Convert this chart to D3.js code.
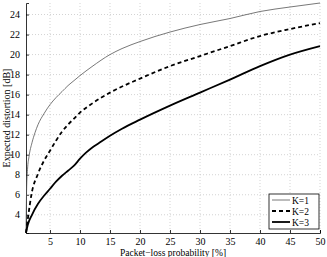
<!DOCTYPE html>
<html>
<head>
<meta charset="utf-8">
<script src="https://cdn.jsdelivr.net/npm/d3@7"></script>
<style>
  body { margin: 0; background: #fff; }
  text { font-family: "Liberation Serif", "DejaVu Serif", serif; }
</style>
</head>
<body>
<svg class="chart"></svg>
<script>
// packet-loss probability [%] and expected distortion [dB]
var k1x = [1, 1.1, 1.25, 1.5, 2, 2.5, 3, 4, 5, 6, 7, 8, 9, 10, 12, 15, 17, 20, 25, 30, 35, 40, 45, 50];
var k1y = [2.2, 6.5, 8.5, 9.8, 11.2, 12.2, 13.0, 14.1, 15.0, 15.7, 16.3, 16.9, 17.4, 17.9, 18.8, 20.0, 20.6, 21.3, 22.25, 23.0, 23.6, 24.3, 24.75, 25.15];

var k2x = [1, 1.4, 1.9, 3, 4, 5, 6, 7, 8, 9, 10, 12, 15, 20, 25, 30, 35, 40, 45, 50];
var k2y = [2.2, 4, 6, 8.1, 9.4, 10.4, 11.4, 12.3, 13.0, 13.6, 14.2, 15.1, 16.2, 17.6, 18.85, 19.85, 20.85, 21.85, 22.55, 23.15];

var k3x = [1, 1.3, 2, 3, 4, 5, 6, 7, 8, 9, 10, 11, 12, 13, 15, 17, 20, 25, 30, 35, 40, 45, 50];
var k3y = [2.2, 3, 4, 5.1, 5.9, 6.6, 7.3, 7.9, 8.4, 8.9, 9.6, 10.2, 10.7, 11.1, 11.9, 12.6, 13.5, 14.9, 16.2, 17.5, 18.85, 20.0, 20.85];

var seriesNames = ["K=1", "K=2", "K=3"];
var xTicks = [5, 10, 15, 20, 25, 30, 35, 40, 45, 50];
var yTicks = [4, 6, 8, 10, 12, 14, 16, 18, 20, 22, 24];

function show() {
    'use strict';

    var margin = { top: 3, bottom: 24, right: 7, left: 26 },
        width = 327 - margin.left - margin.right,
        height = 257 - margin.top - margin.bottom;

    var svg = d3.select(".chart")
        .attr("width", 327)
        .attr("height", 257);

    var chart = svg.append("g")
        .attr("transform", "translate(" + margin.left + "," + margin.top + ")");

    var x = d3.scaleLinear().domain([1, 50]).range([0, width]);
    var y = d3.scaleLinear().domain([2.18, 25.15]).range([height, 0]);

    // dotted grid
    chart.append("g").selectAll("line").data(xTicks).enter().append("line")
        .attr("x1", function(d) { return x(d) }).attr("x2", function(d) { return x(d) })
        .attr("y1", 0).attr("y2", height)
        .attr("stroke", "#c8c8c8").attr("stroke-width", 0.8)
        .attr("stroke-dasharray", "1,2");
    chart.append("g").selectAll("line").data(yTicks).enter().append("line")
        .attr("y1", function(d) { return y(d) }).attr("y2", function(d) { return y(d) })
        .attr("x1", 0).attr("x2", width)
        .attr("stroke", "#c8c8c8").attr("stroke-width", 0.8)
        .attr("stroke-dasharray", "1,2");

    // axes, ticks pointing inward
    var xAxis = chart.append("g")
        .attr("transform", "translate(0," + height + ")")
        .call(d3.axisBottom(x).tickValues(xTicks).tickSize(-3).tickPadding(5));
    var yAxis = chart.append("g")
        .call(d3.axisLeft(y).tickValues(yTicks).tickSize(-3).tickPadding(6));

    [xAxis, yAxis].forEach(function(a) {
        a.select(".domain").attr("stroke", "#000").attr("stroke-width", 0.8);
        a.selectAll(".tick line").attr("stroke", "#000").attr("stroke-width", 0.8);
        a.selectAll("text")
            .attr("fill", "#000")
            .style("font-family", "Liberation Serif")
            .style("font-size", "10px");
    });

    var line = d3.line()
        .x(function(d) { return x(d[0]) })
        .y(function(d) { return y(d[1]) })
        .curve(d3.curveMonotoneX);

    var series = [
        { name: seriesNames[0], data: d3.zip(k1x, k1y), color: "#555", w: 0.8, dash: null },
        { name: seriesNames[1], data: d3.zip(k2x, k2y), color: "#000", w: 1.8, dash: "4,3" },
        { name: seriesNames[2], data: d3.zip(k3x, k3y), color: "#000", w: 1.8, dash: null }
    ];

    chart.selectAll("path.series").data(series).enter().append("path")
        .attr("class", "series")
        .attr("d", function(d) { return line(d.data) })
        .attr("fill", "none")
        .attr("stroke", function(d) { return d.color })
        .attr("stroke-width", function(d) { return d.w })
        .attr("stroke-dasharray", function(d) { return d.dash });

    // axis labels
    svg.append("text")
        .attr("x", margin.left + width / 2)
        .attr("y", 256)
        .attr("text-anchor", "middle")
        .style("font-size", "9.5px")
        .text("Packet\u2212loss probability [%]");

    svg.append("text")
        .attr("transform", "translate(10," + (margin.top + height / 2) + ") rotate(-90)")
        .attr("text-anchor", "middle")
        .style("font-size", "10px")
        .text("Expected distortion [dB]");

    // legend
    var lg = chart.append("g")
        .attr("transform", "translate(" + (width - 51) + "," + (height - 39) + ")");
    lg.append("rect")
        .attr("width", 50).attr("height", 35)
        .attr("fill", "#fff").attr("stroke", "#000").attr("stroke-width", 0.8);
    var items = lg.selectAll("g.item").data(series).enter().append("g")
        .attr("class", "item")
        .attr("transform", function(d, i) { return "translate(0," + (6 + i * 11) + ")" });
    items.append("line")
        .attr("x1", 3).attr("x2", 21).attr("y1", 0).attr("y2", 0)
        .attr("stroke", function(d) { return d.color })
        .attr("stroke-width", function(d) { return d.w })
        .attr("stroke-dasharray", function(d) { return d.dash });
    items.append("text")
        .attr("x", 23).attr("y", 3.5)
        .style("font-size", "9.5px")
        .text(function(d) { return d.name });
}

show();
</script>
</body>
</html>
